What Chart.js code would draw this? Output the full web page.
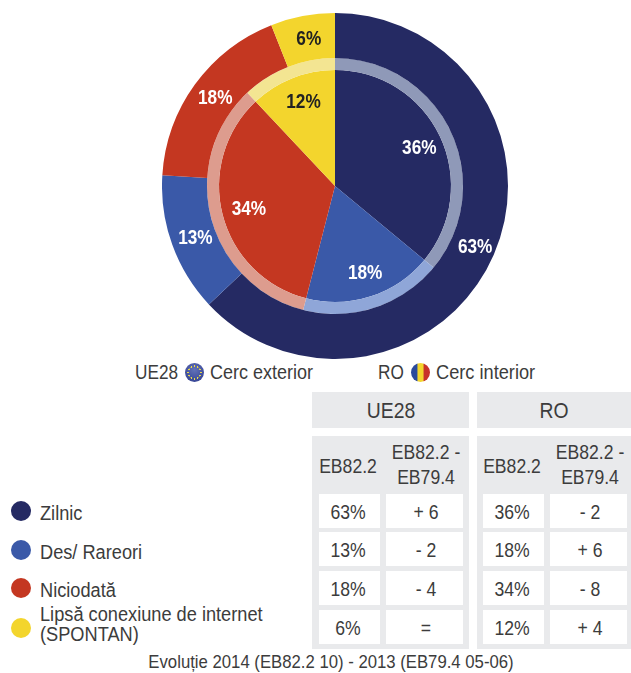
<!DOCTYPE html>
<html lang="ro">
<head>
<meta charset="utf-8">
<script src="https://cdn.jsdelivr.net/npm/chart.js@4"></script>
<style>
html,body{margin:0;padding:0;background:#fff;width:631px;height:673px;overflow:hidden}
body{position:relative;font-family:"Liberation Sans",Arial,sans-serif;color:#3c3c3c}
#wrap{position:absolute;left:162px;top:13px;width:346px;height:346px}
.t{position:absolute;white-space:nowrap;font-size:20px;line-height:20px;transform:translate(-50%,-50%) scaleX(var(--sx,.88))}
.l{position:absolute;white-space:nowrap;font-size:20px;line-height:20px;transform-origin:left center;transform:translateY(-50%) scaleX(var(--sx,.91))}
.b{position:absolute}
</style>
</head>
<body>
<div id="wrap"><canvas id="c" width="346" height="346"></canvas></div>
<script>
const categories = ["Zilnic", "Des/ Rareori", "Niciodată", "Lipsă conexiune de internet (SPONTAN)"];
const ue28Values = [63, 13, 18, 6];
const roValues = [36, 18, 34, 12];
const ue28Change = ["+ 6", "- 2", "- 4", "="];
const roChange = ["- 2", "+ 6", "- 8", "+ 4"];
const sliceColors = ["#252a63", "#3a59a8", "#c43721", "#f3d52d"];
const bandColors = ["#8f99b8", "#8fa6d8", "#dd9c8e", "#f3e592"];
const labelColors = ["#ffffff", "#ffffff", "#ffffff", "#222222"];
const columnHead = ["EB82.2", "EB82.2 -", "EB79.4"];
const groupHead = ["UE28", "RO"];
const footnote = "Evoluție 2014 (EB82.2 10) - 2013 (EB79.4 05-06)";

const sliceLabels = {
  id: "sliceLabels",
  afterDatasetsDraw(chart) {
    const ctx = chart.ctx;
    ctx.save();
    ctx.textAlign = "center";
    ctx.textBaseline = "middle";
    ctx.font = 'bold 21px "Liberation Sans",Arial,sans-serif';
    [[0, 150.5], [2, 91]].forEach(([index, radius]) => {
      chart.getDatasetMeta(index).data.forEach((arc, i) => {
        const p = arc.getProps(["x", "y", "startAngle", "endAngle"], true);
        const mid = (p.startAngle + p.endAngle) / 2;
        ctx.save();
        ctx.translate(p.x + Math.cos(mid) * radius + 2, p.y + Math.sin(mid) * radius + 1);
        ctx.scale(0.82, 1);
        ctx.fillStyle = labelColors[i];
        ctx.fillText(chart.data.datasets[index].data[i] + "%", 0, 0);
        ctx.restore();
      });
    });
    ctx.restore();
  }
};

new Chart(document.getElementById("c"), {
  type: "doughnut",
  data: {
    labels: categories,
    datasets: [
      { label: "UE28", data: ue28Values, backgroundColor: sliceColors, borderWidth: 0, weight: 45 },
      { label: "RO band", data: roValues, backgroundColor: bandColors, borderWidth: 0, weight: 12 },
      { label: "RO", data: roValues, backgroundColor: sliceColors, borderWidth: 0, weight: 116 }
    ]
  },
  options: {
    responsive: false,
    animation: false,
    cutout: 0,
    layout: { padding: 0 },
    plugins: { legend: { display: false }, tooltip: { enabled: false } }
  },
  plugins: [sliceLabels]
});

function el(cls, css, text) {
  const d = document.createElement("div");
  d.className = cls;
  d.style.cssText = css;
  if (text !== undefined) d.textContent = text;
  document.body.appendChild(d);
  return d;
}
const grey = "#e9eaec";
function box(x0, y0, x1, y1, color) {
  el("b", `left:${x0}px;top:${y0}px;width:${x1 - x0}px;height:${y1 - y0}px;background:${color}`);
}
function ctext(x, y, s, size) {
  el("t", `left:${x}px;top:${y}px;` + (size ? `font-size:${size}px;` : ""), s);
}

const groups = [
  { head: [312, 469], c1: [319, 380], c2: [386, 463], vals: ue28Values, chg: ue28Change, name: groupHead[0] },
  { head: [477, 631], c1: [483, 544], c2: [550, 627], vals: roValues, chg: roChange, name: groupHead[1] }
];
const rows = [[494, 528], [532, 566], [571, 605], [610, 644]];
groups.forEach((g) => {
  box(g.head[0], 392, g.head[1], 428, grey);
  box(g.head[0], 436, g.head[1], 649, grey);
  ctext((g.head[0] + g.head[1]) / 2, 411, g.name, 22);
  const m1 = (g.c1[0] + g.c1[1]) / 2 - 1.5, m2 = (g.c2[0] + g.c2[1]) / 2 + 1.5;
  ctext(m1, 466, columnHead[0]);
  ctext(m2, 452, columnHead[1]);
  ctext(m2, 477, columnHead[2]);
  rows.forEach((r, i) => {
    box(g.c1[0], r[0], g.c1[1], r[1], "#fff");
    box(g.c2[0], r[0], g.c2[1], r[1], "#fff");
    ctext(m1, (r[0] + r[1]) / 2 + 1, g.vals[i] + "%");
    ctext(m2, (r[0] + r[1]) / 2 + 1, g.chg[i]);
  });
});

const legendY = [511, 550, 588, 628];
legendY.forEach((y, i) => {
  el("b", `left:11px;top:${y - 10}px;width:20px;height:20px;border-radius:50%;background:${sliceColors[i]}`);
});
el("l", "left:40px;top:513px", categories[0]);
el("l", "left:40px;top:552px", categories[1]);
el("l", "left:40px;top:590px", categories[2]);
el("l", "left:40px;top:614px", "Lipsă conexiune de internet");
el("l", "left:40px;top:634px", "(SPONTAN)");
el("t", "left:331px;top:662px;font-size:19px;--sx:.88", footnote);

el("l", "left:135px;top:372px;--sx:.86", "UE28");
el("l", "left:210px;top:372px;--sx:.9", "Cerc exterior");
el("l", "left:378px;top:372px;--sx:.86", "RO");
el("l", "left:436px;top:372px;--sx:.91", "Cerc interior");

const dots = [];
for (let k = 0; k < 12; k++) {
  const a = k * Math.PI / 6;
  dots.push(`radial-gradient(circle 1px at ${9.5 + 6.3 * Math.cos(a)}px ${9.5 + 6.3 * Math.sin(a)}px,#e8d84a 90%,transparent)`);
}
el("b", `left:184.5px;top:362.5px;width:19px;height:19px;border-radius:50%;background:${dots.join(",")},radial-gradient(circle at 50% 35%,#6272b8,#2c3a8c)`);
el("b", "left:410.5px;top:362.5px;width:19px;height:19px;border-radius:50%;background:linear-gradient(90deg,#2b4a9c 0 32%,#f3d52d 36% 64%,#c8322a 68%)");
</script>
</body>
</html>
